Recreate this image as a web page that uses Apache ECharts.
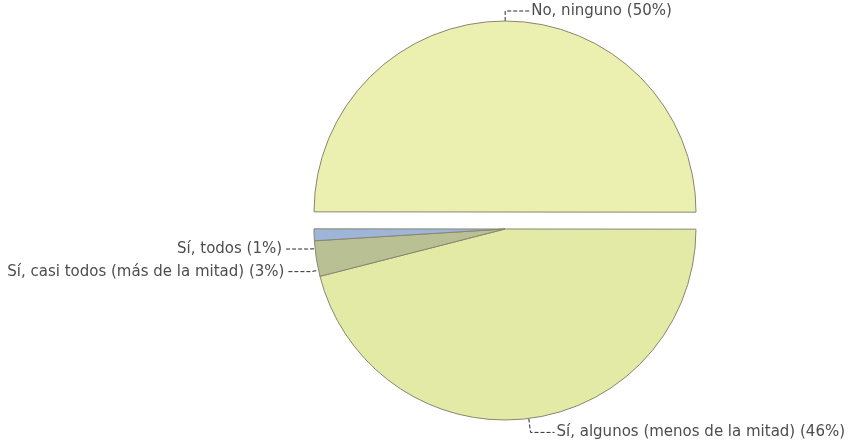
<!DOCTYPE html>
<html><head><meta charset="utf-8">
<script src="https://cdn.jsdelivr.net/npm/echarts@6/dist/echarts.min.js"></script>
<style>html,body{margin:0;padding:0;background:#fff}#c{width:853px;height:441px}</style>
</head><body><div id="c"></div>
<script>
const categories = ["No, ninguno", "Sí, algunos (menos de la mitad)", "Sí, casi todos (más de la mitad)", "Sí, todos"];
const percentages = [50, 46, 3, 1];
const colors = ["#ebf0b1", "#e3eaa5", "#b9c094", "#9fb5d8"];

const labelShift = {2: 12, 3: 14};

const chart = echarts.init(document.getElementById('c'), null, {renderer: 'canvas'});
chart.setOption({
  animation: false,
  backgroundColor: '#ffffff',
  series: [{
    type: 'pie',
    center: [505, 229],
    radius: 191,
    startAngle: 179.95,
    clockwise: true,
    selectedMode: 'single',
    selectedOffset: 17,
    avoidLabelOverlap: false,
    itemStyle: {borderColor: '#8a8672', borderWidth: 1},
    emphasis: {disabled: true},
    select: {itemStyle: {borderColor: '#8a8672', borderWidth: 1}},
    label: {
      show: true,
      position: 'outside',
      fontFamily: 'DejaVu Sans',
      fontSize: 15,
      color: '#4d4d4d',
      distanceToLabelLine: 2,
      formatter: p => p.name + ' (' + p.value + '%)'
    },
    labelLine: {
      show: true,
      length: 14,
      length2: 24,
      lineStyle: {color: '#2a2a2a', width: 1, type: [4, 2]}
    },
    labelLayout: p => {
      const dy = labelShift[p.dataIndex];
      if (!dy || !p.labelLinePoints) return {};
      return {dy: dy, labelLinePoints: p.labelLinePoints.map(pt => [pt[0], pt[1] + dy])};
    },
    data: categories.map((n, i) => ({
      name: n,
      value: percentages[i],
      selected: i === 0,
      itemStyle: {color: colors[i]},
      select: {itemStyle: {color: colors[i]}},
      labelLine: i >= 2 ? {length: 6, length2: 24} : (i === 0 ? {length: 10, length2: 24} : undefined)
    }))
  }]
});
</script></body></html>
